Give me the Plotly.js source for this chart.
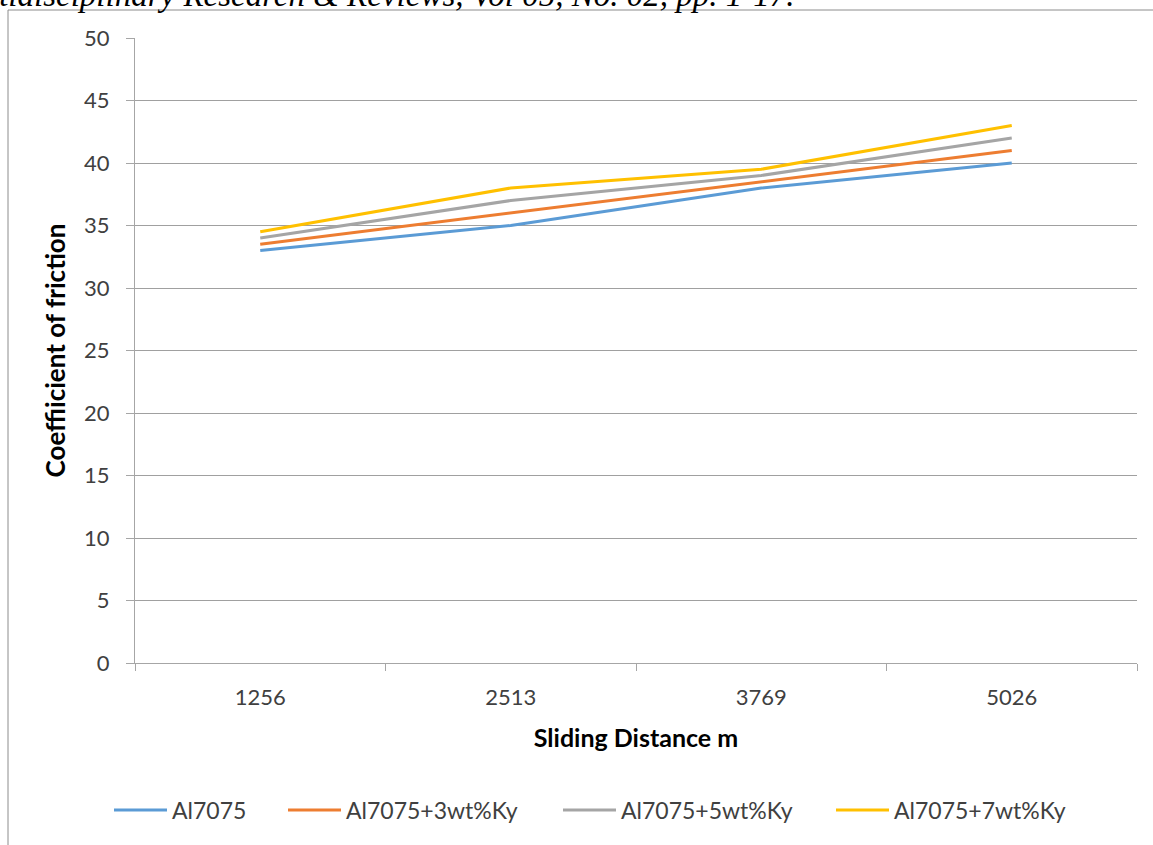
<!DOCTYPE html>
<html>
<head>
<meta charset="utf-8">
<script src="https://cdn.plot.ly/plotly-3.0.1.min.js"></script>
<style>
  html, body { margin: 0; padding: 0; background: #ffffff; overflow: hidden; }
  #chart { width: 1153px; height: 845px; }
</style>
</head>
<body>
<div id="chart"></div>
<script>
// Sliding distance categories (m)
const distances = ['1256', '2513', '3769', '5026'];

// Coefficient of friction for each composition
const al7075 = [33, 35, 38, 40];
const al7075Ky3 = [33.5, 36, 38.5, 41];
const al7075Ky5 = [34, 37, 39, 42];
const al7075Ky7 = [34.5, 38, 39.5, 43];

const seriesNames = ['Al7075', 'Al7075+3wt%Ky', 'Al7075+5wt%Ky', 'Al7075+7wt%Ky'];
const seriesValues = [al7075, al7075Ky3, al7075Ky5, al7075Ky7];
const seriesColors = ['#5B9BD5', '#ED7D31', '#A5A5A5', '#FFC000'];

const yTicks = [0, 5, 10, 15, 20, 25, 30, 35, 40, 45, 50];

const FONT = 'Lato, "Open Sans", sans-serif';

// Plot area spans 135..1137 px horizontally and 38..663 px vertically
const L = 135, R = 16, T = 38, B = 182;
const PW = 1153 - L - R, PH = 845 - T - B;
const px = v => (v - L) / PW;
const py = v => (845 - B - v) / PH;

// each series gets its own legend box along the bottom row
const legendIds = ['legend', 'legend2', 'legend3', 'legend4'];
const legendLeft = [109, 283, 558, 831];

const traces = seriesValues.map((vals, i) => ({
  type: 'scatter',
  mode: 'lines',
  x: distances,
  y: vals,
  name: seriesNames[i],
  legend: legendIds[i],
  line: { color: seriesColors[i], width: 3 }
}));

const layout = {
  width: 1153,
  height: 845,
  margin: { l: L, r: R, t: T, b: B, pad: 0 },
  paper_bgcolor: '#ffffff',
  plot_bgcolor: '#ffffff',
  font: { family: FONT, color: '#404040', size: 22 },
  showlegend: true,
  xaxis: {
    type: 'category',
    range: [-0.5, 3.5],
    tickson: 'boundaries',
    ticks: 'outside',
    ticklen: 7,
    tickcolor: '#a6a6a6',
    showline: true,
    linecolor: '#a6a6a6',
    linewidth: 1,
    showgrid: false,
    zeroline: false,
    ticklabelstandoff: 15,
    tickfont: { family: FONT, size: 22, color: '#404040' },
    title: {
      text: '<b>Sliding Distance m</b>',
      font: { family: FONT, size: 25, color: '#000000' },
      standoff: 20
    }
  },
  yaxis: {
    range: [0, 50],
    tickvals: yTicks,
    ticks: 'outside',
    ticklen: 8,
    tickcolor: '#a6a6a6',
    showline: true,
    linecolor: '#a6a6a6',
    linewidth: 1,
    showgrid: true,
    gridcolor: '#a0a0a0',
    gridwidth: 1,
    zeroline: false,
    ticklabelstandoff: 12,
    tickfont: { family: FONT, size: 22, color: '#404040' },
    title: {
      text: '<b>Coeffiicient of friction</b>',
      font: { family: FONT, size: 26, color: '#000000' },
      standoff: 10
    }
  },
  shapes: [
    // outer chart frame (left and top edges)
    { type: 'line', xref: 'paper', yref: 'paper',
      x0: px(8), x1: px(8), y0: py(10), y1: py(860),
      line: { color: '#8c8c8c', width: 1 } },
    { type: 'line', xref: 'paper', yref: 'paper',
      x0: px(8), x1: px(1160), y0: py(10), y1: py(10),
      line: { color: '#8c8c8c', width: 1 } }
  ],
  annotations: [
    {
      xref: 'paper', yref: 'paper',
      x: px(796), xanchor: 'right',
      y: py(-5), yanchor: 'middle',
      showarrow: false,
      text: '<i>Multidisciplinary Research &amp; Reviews, Vol 05, No. 02, pp. 1-17.</i>',
      font: { family: '"Liberation Serif", "DejaVu Serif", serif', size: 33, color: '#000000' }
    }
  ]
};

legendIds.forEach((id, i) => {
  layout[id] = {
    orientation: 'h',
    x: px(legendLeft[i]), xanchor: 'left',
    y: py(810), yanchor: 'middle',
    font: { family: FONT, size: 23, color: '#404040' },
    itemwidth: 53,
    bgcolor: 'rgba(0,0,0,0)',
    borderwidth: 0
  };
});

Plotly.newPlot('chart', traces, layout, { displayModeBar: false, staticPlot: true });
</script>
</body>
</html>
